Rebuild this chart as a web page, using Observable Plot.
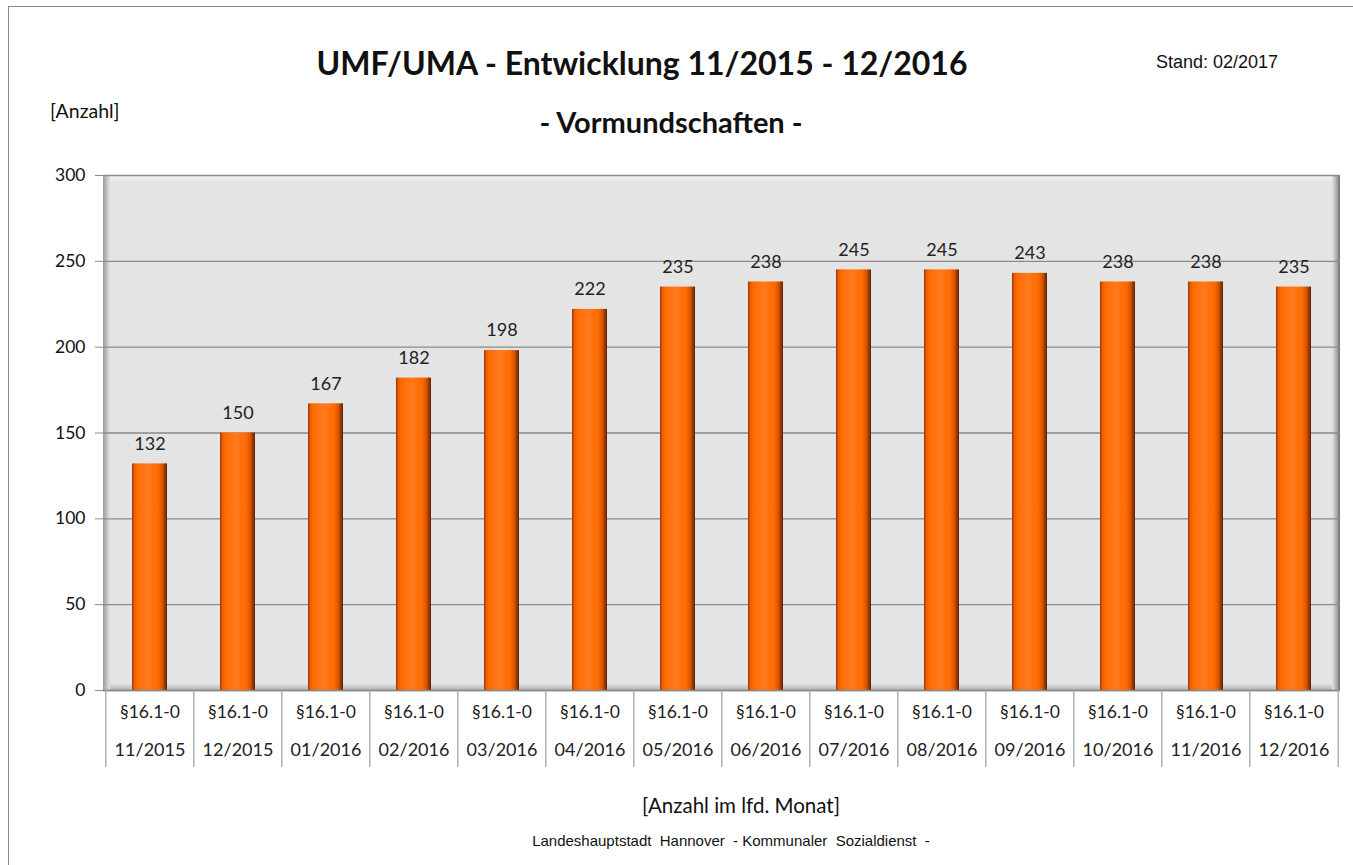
<!DOCTYPE html>
<html>
<head>
<meta charset="utf-8">
<script src="https://cdn.jsdelivr.net/npm/d3@7"></script>
<script src="https://cdn.jsdelivr.net/npm/@observablehq/plot@0.6"></script>
<style>
  html, body { margin: 0; padding: 0; background: #fff; }
  #page { position: relative; width: 1353px; height: 865px; overflow: hidden; font-family: Lato, "Open Sans", sans-serif; color: #111; }
  #border { position: absolute; left: 8px; top: 6px; width: 1360px; height: 880px; border: 1px solid #8a8a8a; box-sizing: border-box; }
  .t { position: absolute; white-space: pre; }
  #title { left: 642px; top: 62px; transform: translate(-50%, -50%); font-size: 32px; font-weight: 700; }
  #subtitle { left: 671px; top: 121px; transform: translate(-50%, -50%); font-size: 29px; font-weight: 700; }
  #stand { left: 1156px; top: 62px; transform: translateY(-50%); font-family: "Liberation Sans", Arial, sans-serif; font-size: 18px; }
  #ylab { left: 50px; top: 110px; transform: translateY(-50%); font-size: 19.5px; }
  #xlab { left: 741px; top: 805px; transform: translate(-50%, -50%); font-size: 20.5px; }
  #footer { left: 731px; top: 840px; transform: translate(-50%, -50%); font-family: "Liberation Sans", Arial, sans-serif; font-size: 15px; }
  #chart { position: absolute; left: 0; top: 0; }
</style>
</head>
<body>
<div id="page">
  <div id="border"></div>
  <div class="t" id="title">UMF/UMA - Entwicklung 11/2015 - 12/2016</div>
  <div class="t" id="subtitle">- Vormundschaften -</div>
  <div class="t" id="stand">Stand: 02/2017</div>
  <div class="t" id="ylab">[Anzahl]</div>
  <div class="t" id="xlab">[Anzahl im lfd. Monat]</div>
  <div class="t" id="footer">Landeshauptstadt  Hannover  - Kommunaler  Sozialdienst  -</div>
  <div id="chart"></div>
</div>
<script>
// ---- data ----
const months = ["11/2015","12/2015","01/2016","02/2016","03/2016","04/2016","05/2016","06/2016","07/2016","08/2016","09/2016","10/2016","11/2016","12/2016"];
const codes = ["§16.1-0","§16.1-0","§16.1-0","§16.1-0","§16.1-0","§16.1-0","§16.1-0","§16.1-0","§16.1-0","§16.1-0","§16.1-0","§16.1-0","§16.1-0","§16.1-0"];
const values = [132,150,167,182,198,222,235,238,245,245,243,238,238,235];
const yTicks = [0,50,100,150,200,250,300];

const data = months.map((m, i) => ({month: m, code: codes[i], value: values[i]}));

const W = 1353, H = 865;
const mL = 103, mR = 13, mT = 175, mB = 175;
const step = (W - mL - mR) / months.length;

// defs + bevelled plot background
function background(index, scales, values, dims) {
  const x0 = dims.marginLeft, x1 = dims.width - dims.marginRight;
  const y0 = dims.marginTop, y1 = dims.height - dims.marginBottom;
  const g = d3.create("svg:g");
  const defs = g.append("defs");
  const bg = defs.append("linearGradient").attr("id", "barGrad").attr("x1", 0).attr("x2", 1).attr("y1", 0).attr("y2", 0);
  [[0, "#8a3400"], [0.06, "#e85c00"], [0.16, "#ff6a00"], [0.45, "#ff7a1c"], [0.75, "#ff6a00"], [0.87, "#d85400"], [1, "#5a2200"]]
    .forEach(([o, c]) => bg.append("stop").attr("offset", o).attr("stop-color", c));
  const lg = defs.append("linearGradient").attr("id", "leftBevel").attr("x1", 0).attr("x2", 1);
  lg.append("stop").attr("offset", 0).attr("stop-color", "#9a9a9a");
  lg.append("stop").attr("offset", 1).attr("stop-color", "#e4e4e4");
  const rg = defs.append("linearGradient").attr("id", "rightBevel").attr("x1", 0).attr("x2", 1);
  rg.append("stop").attr("offset", 0).attr("stop-color", "#e4e4e4");
  rg.append("stop").attr("offset", 0.6).attr("stop-color", "#a8a8a8");
  rg.append("stop").attr("offset", 1).attr("stop-color", "#6e6e6e");
  const tg = defs.append("linearGradient").attr("id", "topBevel").attr("x1", 0).attr("x2", 0).attr("y1", 0).attr("y2", 1);
  tg.append("stop").attr("offset", 0).attr("stop-color", "#f6f6f6");
  tg.append("stop").attr("offset", 1).attr("stop-color", "#e4e4e4");
  const bt = defs.append("linearGradient").attr("id", "botBevel").attr("x1", 0).attr("x2", 0).attr("y1", 0).attr("y2", 1);
  bt.append("stop").attr("offset", 0).attr("stop-color", "#e4e4e4");
  bt.append("stop").attr("offset", 1).attr("stop-color", "#b4b4b4");
  const capg = defs.append("linearGradient").attr("id", "capGrad").attr("x1", 0).attr("x2", 1);
  [[0, "#c05000"], [0.15, "#ff8a30"], [0.5, "#ffa050"], [0.85, "#ff8a30"], [1, "#a04000"]]
    .forEach(([o, c]) => capg.append("stop").attr("offset", o).attr("stop-color", c));

  g.append("rect").attr("x", x0).attr("y", y0).attr("width", x1 - x0).attr("height", y1 - y0).attr("fill", "#e4e4e4");
  g.append("rect").attr("x", x0).attr("y", y0).attr("width", x1 - x0).attr("height", 7).attr("fill", "url(#topBevel)");
  g.append("rect").attr("x", x0).attr("y", y1 - 7).attr("width", x1 - x0).attr("height", 7).attr("fill", "url(#botBevel)");
  g.append("rect").attr("x", x0).attr("y", y0).attr("width", 7).attr("height", y1 - y0).attr("fill", "url(#leftBevel)");
  g.append("rect").attr("x", x1 - 8).attr("y", y0).attr("width", 8).attr("height", y1 - y0).attr("fill", "url(#rightBevel)");
  return g.node();
}

const plot = Plot.plot({
  width: W,
  height: H,
  marginLeft: mL,
  marginRight: mR,
  marginTop: mT,
  marginBottom: mB,
  style: {fontFamily: "Lato, 'Open Sans', sans-serif", fontSize: "17px", color: "#111", background: "transparent"},
  x: {type: "band", domain: months, paddingInner: 0.6, paddingOuter: 0.3, axis: null},
  y: {domain: [0, 300], axis: null},
  marks: [
    background,
    Plot.gridY(yTicks, {stroke: "#8a8a8a", strokeOpacity: 1, strokeWidth: 1.3}),
    Plot.axisY({ticks: yTicks, tickSize: 8, tickPadding: 10, fontSize: 17.5, label: null, stroke: "#8a8a8a"}),
    Plot.barY(data, {x: "month", y: "value", fill: "url(#barGrad)"}),
    Plot.tickY(data, {x: "month", y: "value", stroke: "url(#capGrad)", strokeWidth: 5, dy: 3, inset: 3}),
    Plot.text(data, {x: "month", y: "value", text: d => String(d.value), dy: -20, fontSize: 18, fill: "#222"}),
    Plot.ruleY([0], {stroke: "#8a8a8a", strokeWidth: 1.5}),
    Plot.ruleX(data, {x: "month", dx: -step / 2, stroke: "#a5a5a5", strokeWidth: 1.3, insetTop: H - mT - mB, insetBottom: -77}),
    Plot.ruleX(data.slice(-1), {x: "month", dx: step / 2, stroke: "#a5a5a5", strokeWidth: 1.3, insetTop: H - mT - mB, insetBottom: -77}),
    Plot.text(data, {x: "month", text: "code", frameAnchor: "bottom", dy: 27, fontSize: 17.5, fill: "#222"}),
    Plot.text(data, {x: "month", text: "month", frameAnchor: "bottom", dy: 65, fontSize: 18, fill: "#222"})
  ]
});
document.getElementById("chart").appendChild(plot);
</script>
</body>
</html>
